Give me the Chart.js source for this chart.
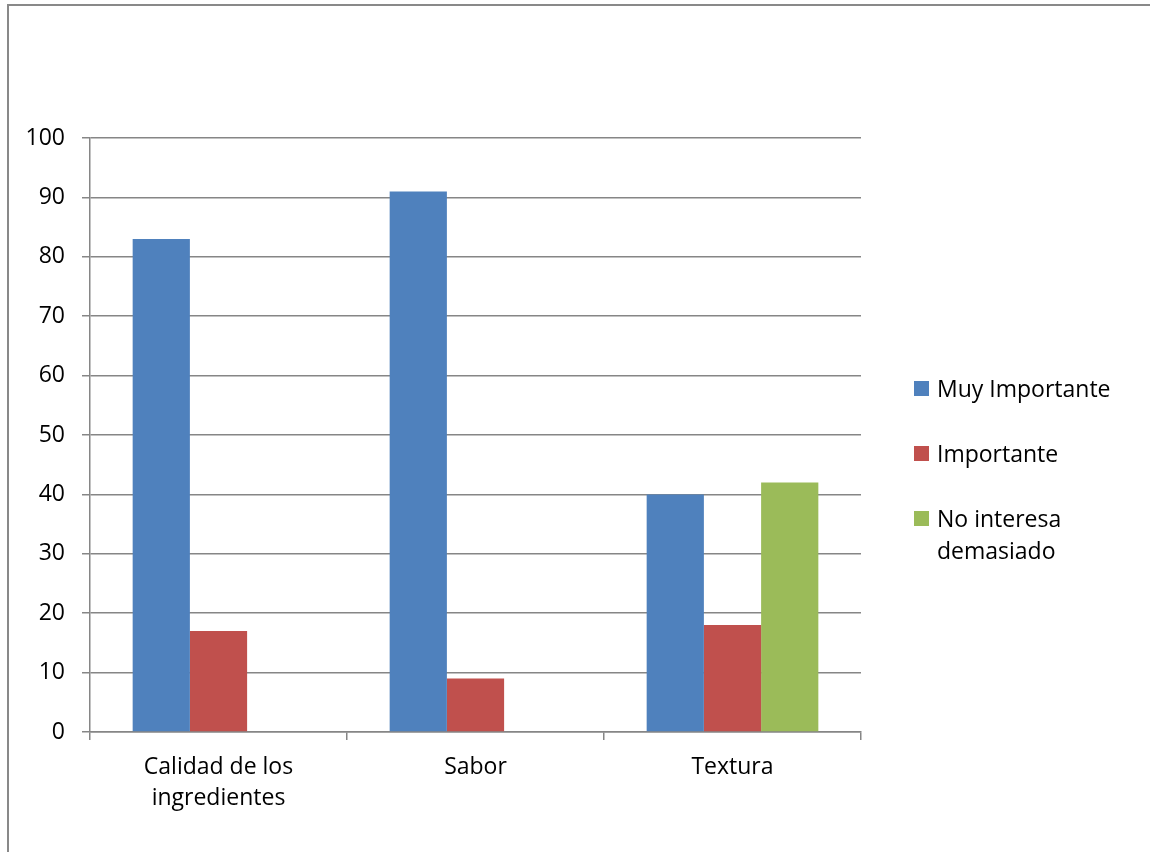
<!DOCTYPE html>
<html>
<head>
<meta charset="utf-8">
<script src="https://cdn.jsdelivr.net/npm/chart.js@4.4.1/dist/chart.umd.min.js"></script>
<style>
  html, body { margin: 0; padding: 0; background: #fff; }
  #wrap { position: relative; width: 1150px; height: 852px; overflow: hidden; font-family: "Open Sans", "Noto Sans", sans-serif; }
  #frame { position: absolute; left: 7px; top: 4px; width: 1200px; height: 900px; border-left: 2px solid #898989; border-top: 2px solid #898989; box-sizing: border-box; }
  #c { position: absolute; left: 0; top: 0; }
  .leg { position: absolute; left: 914px; font-size: 23px; color: #000; line-height: 32px; }
  .leg .sw { position: absolute; left: 0; top: 9px; width: 15px; height: 15px; }
  .leg .tx { position: absolute; left: 23px; top: 0; white-space: nowrap; }
</style>
</head>
<body>
<div id="wrap">
  <div id="frame"></div>
  <canvas id="c" width="1150" height="852"></canvas>
  <div id="legend"></div>
</div>
<script>
const categories = [["Calidad de los", "ingredientes"], "Sabor", "Textura"];
const seriesNames = ["Muy Importante", "Importante", ["No interesa", "demasiado"]];
const muyImportante = [83, 91, 40];
const importante = [17, 9, 18];
const noInteresa = [null, null, 42];
const yTicks = [0, 10, 20, 30, 40, 50, 60, 70, 80, 90, 100];
const colors = ["#4F81BD", "#C0504D", "#9BBB59"];

const FONT = "'Open Sans', 'Noto Sans', sans-serif";

// HTML legend
const legendTops = [372, 437, 502];
const legendEl = document.getElementById('legend');
seriesNames.forEach((name, i) => {
  const d = document.createElement('div');
  d.className = 'leg';
  d.style.top = legendTops[i] + 'px';
  const sw = document.createElement('div');
  sw.className = 'sw';
  sw.style.background = colors[i];
  const tx = document.createElement('div');
  tx.className = 'tx';
  tx.innerHTML = (Array.isArray(name) ? name : [name]).join('<br>');
  d.appendChild(sw); d.appendChild(tx);
  legendEl.appendChild(d);
});

new Chart(document.getElementById('c'), {
  type: 'bar',
  data: {
    labels: categories,
    datasets: [
      { label: "Muy Importante", data: muyImportante, backgroundColor: colors[0] },
      { label: "Importante", data: importante, backgroundColor: colors[1] },
      { label: "No interesa demasiado", data: noInteresa, backgroundColor: colors[2] }
    ]
  },
  options: {
    responsive: false,
    animation: false,
    devicePixelRatio: 1,
    layout: { padding: { left: 0, top: 138, right: 289, bottom: 0 } },
    datasets: { bar: { barPercentage: 1.0, categoryPercentage: 0.668 } },
    plugins: { legend: { display: false }, tooltip: { enabled: false } },
    scales: {
      x: {
        afterFit: (s) => { s.height = 120; },
        grid: { offset: true, drawOnChartArea: false, drawTicks: true, tickLength: 8, color: '#868686', lineWidth: 1.5 },
        border: { display: true, color: '#868686', width: 1.5 },
        ticks: { color: '#000', padding: 12, font: { family: FONT, size: 23, lineHeight: 1.35 }, maxRotation: 0, autoSkip: false }
      },
      y: {
        min: 0, max: 100,
        afterFit: (s) => { s.width = 90; },
        afterBuildTicks: (s) => { s.ticks = yTicks.map(v => ({ value: v })); },
        grid: { drawTicks: true, tickLength: 8, color: '#868686', lineWidth: 1.5 },
        border: { display: true, color: '#868686', width: 1.5 },
        ticks: { color: '#000', padding: 17, font: { family: FONT, size: 23 } }
      }
    }
  }
});
</script>
</body>
</html>
